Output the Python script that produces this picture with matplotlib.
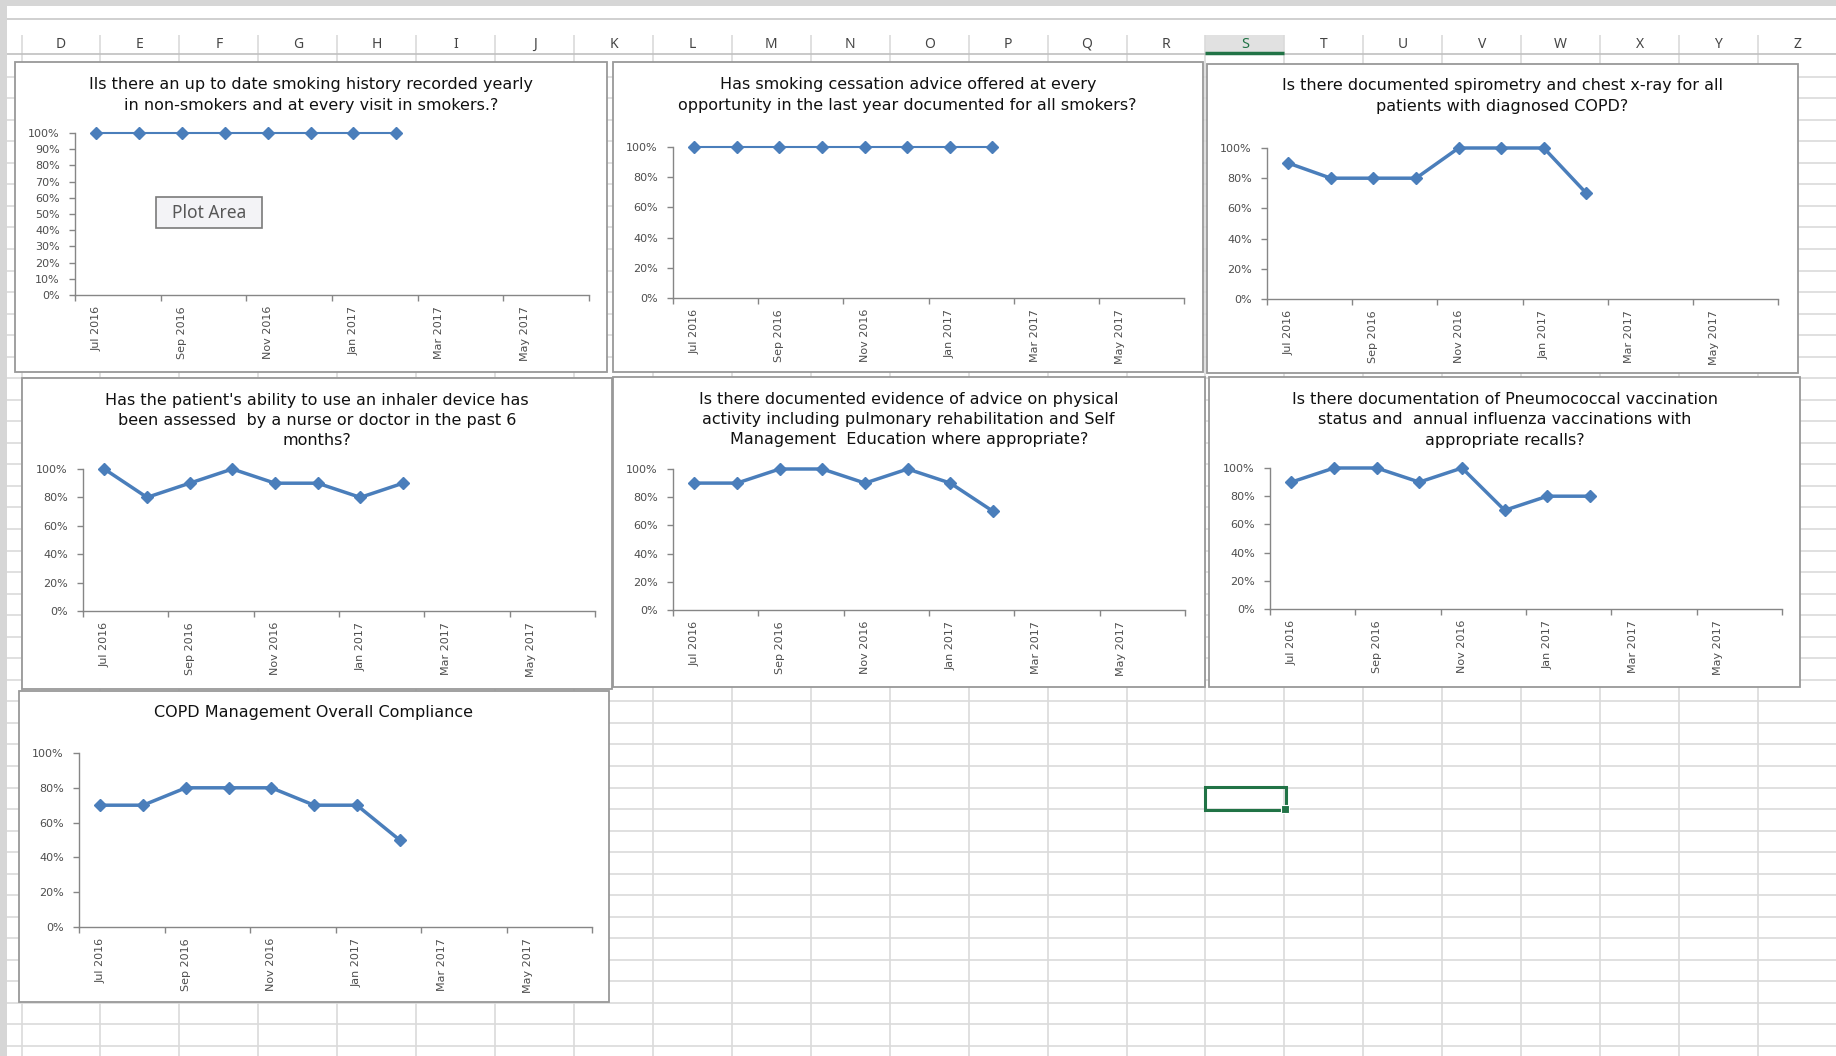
import matplotlib
matplotlib.use('Agg')
import matplotlib.pyplot as plt
from matplotlib.patches import Rectangle

W, H = 1836, 1056

# ---- data -------------------------------------------------------------
months = ['Jul 2016', 'Aug 2016', 'Sep 2016', 'Oct 2016', 'Nov 2016', 'Dec 2016',
          'Jan 2017', 'Feb 2017', 'Mar 2017', 'Apr 2017', 'May 2017', 'Jun 2017']

smoking_history = [1.0, 1.0, 1.0, 1.0, 1.0, 1.0, 1.0, 1.0]
cessation_advice = [1.0, 1.0, 1.0, 1.0, 1.0, 1.0, 1.0, 1.0]
spirometry = [0.9, 0.8, 0.8, 0.8, 1.0, 1.0, 1.0, 0.7]
inhaler = [1.0, 0.8, 0.9, 1.0, 0.9, 0.9, 0.8, 0.9]
physical_activity = [0.9, 0.9, 1.0, 1.0, 0.9, 1.0, 0.9, 0.7]
vaccination = [0.9, 1.0, 1.0, 0.9, 1.0, 0.7, 0.8, 0.8]
overall = [0.7, 0.7, 0.8, 0.8, 0.8, 0.7, 0.7, 0.5]

titles = [
    "Ils there an up to date smoking history recorded yearly\nin non-smokers and at every visit in smokers.?",
    "Has smoking cessation advice offered at every\nopportunity in the last year documented for all smokers?",
    "Is there documented spirometry and chest x-ray for all\npatients with diagnosed COPD?",
    "Has the patient's ability to use an inhaler device has\nbeen assessed  by a nurse or doctor in the past 6\nmonths?",
    "Is there documented evidence of advice on physical\nactivity including pulmonary rehabilitation and Self\nManagement  Education where appropriate?",
    "Is there documentation of Pneumococcal vaccination\nstatus and  annual influenza vaccinations with\nappropriate recalls?",
    "COPD Management Overall Compliance",
]
series = [smoking_history, cessation_advice, spirometry, inhaler,
          physical_activity, vaccination, overall]

col_letters = list("DEFGHIJKLMNOPQRSTUVWXYZ")

# ---- layout (pixels) --------------------------------------------------
# box, plot area (left, top=100%, right, bottom=0%), title centre y, y step, line width
charts = [
    ((14.5, 62, 607, 372), (75, 133, 589, 295), 95, 0.1, 1.5),
    ((612.5, 62, 1203, 372), (673, 147, 1184, 298), 95, 0.2, 1.5),
    ((1207, 64, 1797.5, 373), (1267, 148, 1778, 299), 96, 0.2, 2.5),
    ((21.5, 378, 612, 689), (83, 469, 595, 611), 420.5, 0.2, 2.5),
    ((612.5, 376.5, 1205, 687), (673, 469, 1185, 610), 419.5, 0.2, 2.5),
    ((1209, 376.5, 1800, 686.5), (1270, 468, 1782, 609), 420, 0.2, 2.5),
    ((18.5, 691, 609, 1001.5), (79, 753, 592, 927), 713, 0.2, 2.5),
]

COL_X0, COL_W = 21.5, 78.93
ROW_Y0, ROW_H = 76.7, 21.54

LINE_BLUE = '#4a7ebb'
AXIS_GREY = '#868686'
LABEL_GREY = '#4d4d4d'
GRID = '#dadada'
FONT = 'DejaVu Sans'

fig = plt.figure(figsize=(W / 100, H / 100), dpi=100)
fig.patch.set_facecolor('white')

# ---- spreadsheet background -------------------------------------------
bg = fig.add_axes([0, 0, 1, 1])
bg.set_xlim(0, W)
bg.set_ylim(H, 0)
bg.axis('off')

bg.add_patch(Rectangle((0, 0), W, 6, fc='#d6d6d6', ec='none', zorder=1))
bg.add_patch(Rectangle((0, 0), 7, H, fc='#d6d6d6', ec='none', zorder=1))
bg.hlines(18.5, 7, W, color='#c8c8c8', lw=1.2, zorder=1)

k = 0
while ROW_Y0 + ROW_H * k < H:
    bg.hlines(ROW_Y0 + ROW_H * k, 7, W, color=GRID, lw=1.2, zorder=1)
    k += 1

# selected column header
sel = col_letters.index('S')
bg.add_patch(Rectangle((COL_X0 + COL_W * sel, 35), COL_W, 19, fc='#e1e1e1', ec='none', zorder=0.5))
for i in range(len(col_letters) + 1):
    x = COL_X0 + COL_W * i
    bg.vlines(x, 35, H, color=GRID, lw=1.2, zorder=1)
bg.hlines(54, 7, W, color='#c0c0c0', lw=1.2, zorder=1.5)
bg.hlines(52.8, COL_X0 + COL_W * sel, COL_X0 + COL_W * (sel + 1), color='#217346', lw=2.5, zorder=2)

for i, letter in enumerate(col_letters):
    xc = COL_X0 + COL_W * (i + 0.5)
    if letter == 'S':
        bg.text(xc, 44, letter, ha='center', va='center', fontsize=10.5,
                color='#217346', fontweight='bold', family='Noto Sans', zorder=3)
    else:
        bg.text(xc, 44, letter, ha='center', va='center', fontsize=10,
                color='#444444', family='Noto Sans', zorder=3)

# active cell
bg.add_patch(Rectangle((1204.5, 787), 81, 22.5, fc='none', ec='#217346', lw=2.2, zorder=4))
bg.add_patch(Rectangle((1281, 805), 8, 8, fc='#217346', ec='white', lw=0.8, zorder=4.5))

# chart frames, drawn over the grid
for box, _, _, _, _ in charts:
    x0, y0, x1, y1 = box
    bg.add_patch(Rectangle((x0, y0), x1 - x0, y1 - y0, fc='white', ec='#999999',
                           lw=1.3, zorder=5))

# ---- charts -------------------------------------------------------------
for (box, plot, ty, ystep, lw), title, values in zip(charts, titles, series):
    bx0, by0, bx1, by1 = box
    px0, ptop, px1, pbot = plot
    ax = fig.add_axes([px0 / W, 1 - pbot / H, (px1 - px0) / W, (pbot - ptop) / H])
    ax.set_facecolor('none')
    ax.plot(range(len(values)), values, color=LINE_BLUE, lw=lw,
            marker='D', markersize=6.5, markerfacecolor=LINE_BLUE,
            markeredgecolor=LINE_BLUE, clip_on=False)
    ax.set_xlim(-0.5, len(months) - 0.5)
    ax.set_ylim(0, 1)

    for side in ('top', 'right'):
        ax.spines[side].set_visible(False)
    for side in ('left', 'bottom'):
        ax.spines[side].set_color(AXIS_GREY)
        ax.spines[side].set_linewidth(1.0)

    nsteps = int(round(1 / ystep))
    yt = [i * ystep for i in range(nsteps + 1)]
    ax.set_yticks(yt)
    ax.set_yticklabels([f"{int(round(v * 100))}%" for v in yt])
    ax.tick_params(axis='y', length=4, width=1, color=AXIS_GREY, pad=7,
                   labelsize=8, labelcolor=LABEL_GREY)

    # boundary ticks every two months, labels centred on the month
    ax.set_xticks([i - 0.5 for i in range(0, len(months) + 1, 2)])
    ax.set_xticklabels([])
    ax.set_xticks(range(0, len(months), 2), minor=True)
    ax.set_xticklabels(months[::2], minor=True, rotation=90)
    ax.tick_params(axis='x', which='major', length=4, width=1, color=AXIS_GREY)
    ax.tick_params(axis='x', which='minor', length=0, pad=8,
                   labelsize=8, labelcolor=LABEL_GREY)
    for lab in ax.get_xticklabels(minor=True) + ax.get_yticklabels():
        lab.set_family(FONT)

    fig.text(((bx0 + bx1) / 2) / W, 1 - ty / H, title, ha='center', va='center',
             multialignment='center', fontsize=11.5, family=FONT,
             color='#111111', linespacing=1.45)

# "Plot Area" hover tip on the first chart
top = fig.add_axes([0, 0, 1, 1], zorder=10)
top.set_xlim(0, W)
top.set_ylim(H, 0)
top.axis('off')
top.add_patch(Rectangle((156, 197), 106, 31, fc='#f3f3f6', ec='#7a7a7a', lw=1.2))
top.text(209, 213, 'Plot Area', ha='center', va='center', fontsize=12.5,
         color='#575757', family='Noto Sans')

fig.savefig('out.png', dpi=100)
